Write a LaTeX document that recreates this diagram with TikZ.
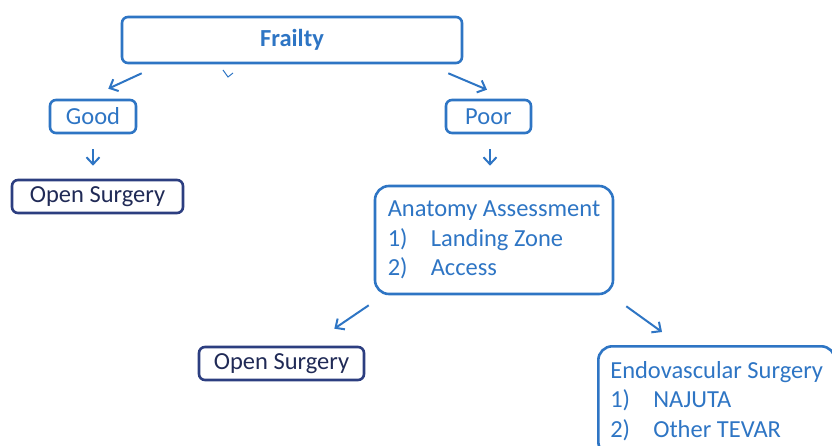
\documentclass[tikz,border=0pt]{standalone}
\usepackage{fontspec}
\setmainfont{Carlito}
\usetikzlibrary{arrows.meta}
\definecolor{boxblue}{RGB}{46,117,196}
\definecolor{darkline}{RGB}{44,62,128}
\definecolor{darktext}{RGB}{32,42,86}
\tikzset{
  arr/.style={draw=boxblue,line width=2pt,-{Straight Barb[length=7pt,width=13pt]}}
}
\begin{document}
\begin{tikzpicture}[x=1pt,y=-1pt]
        \useasboundingbox (0,0) rectangle (832,446);

        \begin{scope}[every node/.style={draw=boxblue,text=boxblue,line width=2.6pt,rounded corners=6pt,
            inner sep=0pt,font=\fontsize{24.5}{29.5}\selectfont}]
          \node[minimum width=340pt,minimum height=46pt,font=\fontsize{24.5}{29.5}\selectfont\bfseries]
            (frailty) at (292,40) {Frailty};
          \node[minimum width=86pt,minimum height=33pt] (good) at (93,116.5) {Good};
          \node[minimum width=85pt,minimum height=33pt] (poor) at (488.5,116.5) {Poor};
          \node[minimum width=171pt,minimum height=33pt,draw=darkline,text=darktext]
            (open1) at (97.5,196.5) {Open Surgery};
          \node[minimum width=165pt,minimum height=33pt,draw=darkline,text=darktext]
            (open2) at (281.5,363.5) {Open Surgery};
          \node[rounded corners=14pt,minimum width=238pt,minimum height=108pt,align=left]
            (anatomy) at (494,240)
            {Anatomy Assessment\\\makebox[43pt][l]{1)}Landing Zone\\\makebox[43pt][l]{2)}Access};
          \node[rounded corners=14pt,anchor=north west,align=left,inner xsep=12pt,inner ysep=15pt]
            (endo) at (597,345)
            {Endovascular Surgery\\\makebox[43pt][l]{1)}NAJUTA\\\makebox[43pt][l]{2)}Other TEVAR};
        \end{scope}

        \path[arr] ([shift={(21,9)}]frailty.south west) -- ([shift={(-29,-10)}]good.north east);
        \path[arr] ([shift={(-15,9)}]frailty.south east) -- ([shift={(-1.5,-9)}]poor.north);
        \path[arr] ([shift={(0,15)}]good.south) -- ([shift={(-4.5,-13)}]open1.north);
        \path[arr] ([shift={(1.5,15)}]poor.south) -- ([shift={(-4,-19)}]anatomy.north);
        \path[arr] ([shift={(-5,10)}]anatomy.south west) -- ([shift={(-31,-17)}]open2.north east);
        \path[arr] ([shift={(12,11)}]anatomy.south east) -- ([shift={(65,-13)}]endo.north west);

        % small stray tick under the top box
        \draw[boxblue,line width=1pt] (223,70) -- (228,77) -- (233,73);

\end{tikzpicture}
\end{document}
